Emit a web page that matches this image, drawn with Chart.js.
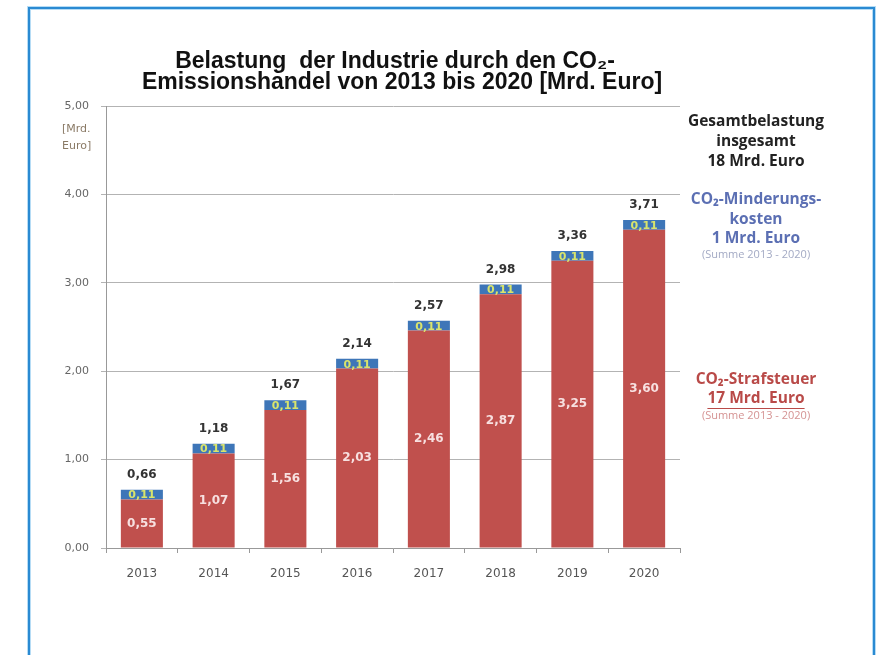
<!DOCTYPE html>
<html>
<head>
<meta charset="utf-8">
<title>Belastung der Industrie durch den CO2-Emissionshandel</title>
<script src="https://cdn.jsdelivr.net/npm/chart.js@4.4.0/dist/chart.umd.min.js"></script>
<style>
  html, body { margin: 0; padding: 0; background: #fff; }
  #wrap { position: relative; width: 881px; height: 655px; overflow: hidden; }
  #rahmen {
    position: absolute; left: 28px; top: 7px; width: 843px; height: 700px;
    border: 2px solid #2a8ad2;
    box-shadow: inset 0 0 0 1px #b6dcf5, 0 0 0 1px #b6dcf5;
  }
  canvas { position: absolute; left: 0; top: 0; }
</style>
</head>
<body>
<div id="wrap">
  <div id="rahmen"></div>
  <canvas id="grafik" width="881" height="655"></canvas>
</div>
<script>
// Daten (Mrd. Euro)
const jahre = ["2013", "2014", "2015", "2016", "2017", "2018", "2019", "2020"];
const strafsteuer = [0.55, 1.07, 1.56, 2.03, 2.46, 2.87, 3.25, 3.60];
const minderung = [0.11, 0.11, 0.11, 0.11, 0.11, 0.11, 0.11, 0.11];
const gesamt = [0.66, 1.18, 1.67, 2.14, 2.57, 2.98, 3.36, 3.71];
const yMax = 5;
const yStep = 1;

const komma = (v) => v.toFixed(2).replace(".", ",");

// Werte an den Balken
const wertePlugin = {
  id: "werte",
  afterDatasetsDraw(chart) {
    const ctx = chart.ctx;
    const rot = chart.getDatasetMeta(0).data;
    const blau = chart.getDatasetMeta(1).data;
    ctx.save();
    ctx.textAlign = "center";
    ctx.textBaseline = "middle";
    rot.forEach((bar, i) => {
      ctx.font = 'bold 12px "DejaVu Sans"';
      ctx.fillStyle = "#f7e0e0";
      ctx.fillText(komma(strafsteuer[i]), bar.x, (bar.y + bar.base) / 2);
    });
    blau.forEach((bar, i) => {
      ctx.font = 'bold 11px "DejaVu Sans"';
      ctx.fillStyle = "#d9e46c";
      ctx.fillText(komma(minderung[i]), bar.x, (bar.y + bar.base) / 2 + 1);
      ctx.font = 'bold 12px "DejaVu Sans"';
      ctx.fillStyle = "#333";
      ctx.fillText(komma(gesamt[i]), bar.x, bar.y - 15);
    });
    ctx.restore();
  },
};

// Titel und Beschriftungen rechts
const textPlugin = {
  id: "texte",
  afterDraw(chart) {
    const ctx = chart.ctx;
    ctx.save();
    ctx.textBaseline = "middle";
    ctx.textAlign = "center";
    ctx.fillStyle = "#111";
    ctx.font = 'bold 23px "Liberation Sans"';
    ctx.fillText("Belastung  der Industrie durch den CO\u2082-", 395, 62);
    ctx.fillText("Emissionshandel von 2013 bis 2020 [Mrd. Euro]", 402, 83);

    ctx.textAlign = "left";
    ctx.font = '11px "DejaVu Sans"';
    ctx.fillStyle = "#8a7a66";
    ctx.fillText("[Mrd.", 62, 129);
    ctx.fillText("Euro]", 62, 146);

    ctx.textAlign = "center";
    const x = 756;
    const zeile = (txt, y, farbe, font) => {
      ctx.font = font;
      ctx.fillStyle = farbe;
      ctx.fillText(txt, x, y);
    };
    const fett = 'bold 15.5px "Open Sans"';
    const klein = '11px "Open Sans"';
    zeile("Gesamtbelastung", 122, "#222", fett);
    zeile("insgesamt", 142, "#222", fett);
    zeile("18 Mrd. Euro", 162, "#222", fett);

    zeile("CO\u2082-Minderungs-", 200, "#5b6fb3", fett);
    zeile("kosten", 220, "#5b6fb3", fett);
    zeile("1 Mrd. Euro", 239, "#5b6fb3", fett);
    zeile("(Summe 2013 - 2020)", 255, "#a3aac4", klein);

    zeile("CO\u2082-Strafsteuer", 380, "#b94a48", fett);
    zeile("17 Mrd. Euro", 399, "#b94a48", fett);
    ctx.font = fett;
    const w = ctx.measureText("17 Mrd. Euro").width;
    ctx.strokeStyle = "#b94a48";
    ctx.lineWidth = 1;
    ctx.beginPath();
    ctx.moveTo(x - w / 2, 408.5);
    ctx.lineTo(x + w / 2, 408.5);
    ctx.stroke();
    zeile("(Summe 2013 - 2020)", 416, "#d59393", klein);
    ctx.restore();
  },
};

const ctx = document.getElementById("grafik").getContext("2d");
new Chart(ctx, {
  type: "bar",
  data: {
    labels: jahre,
    datasets: [
      {
        label: "CO2-Strafsteuer",
        data: strafsteuer,
        backgroundColor: "#c0504d",
        barPercentage: 0.586,
        categoryPercentage: 1,
      },
      {
        label: "CO2-Minderungskosten",
        data: minderung,
        backgroundColor: "#3e76b8",
        barPercentage: 0.586,
        categoryPercentage: 1,
      },
    ],
  },
  options: {
    responsive: false,
    animation: false,
    devicePixelRatio: 1,
    layout: { padding: { left: 30, top: 106, right: 201, bottom: 0 } },
    plugins: {
      legend: { display: false },
      tooltip: { enabled: false },
      title: { display: false },
    },
    scales: {
      x: {
        stacked: true,
        afterFit: (s) => { s.height = 107; },
        grid: { offset: true, drawOnChartArea: false, tickLength: 5, color: "#999" },
        border: { color: "#999" },
        ticks: { padding: 14, color: "#555", font: { family: "DejaVu Sans", size: 12 } },
      },
      y: {
        stacked: true,
        min: 0,
        max: yMax,
        afterFit: (s) => { s.width = 76; },
        grid: { color: "#b3b3b3", tickLength: 5 },
        border: { color: "#999" },
        ticks: {
          stepSize: yStep,
          padding: 12,
          color: "#666",
          font: { family: "DejaVu Sans", size: 11 },
          callback: (v) => komma(v),
        },
      },
    },
  },
  plugins: [wertePlugin, textPlugin],
});
</script>
</body>
</html>
